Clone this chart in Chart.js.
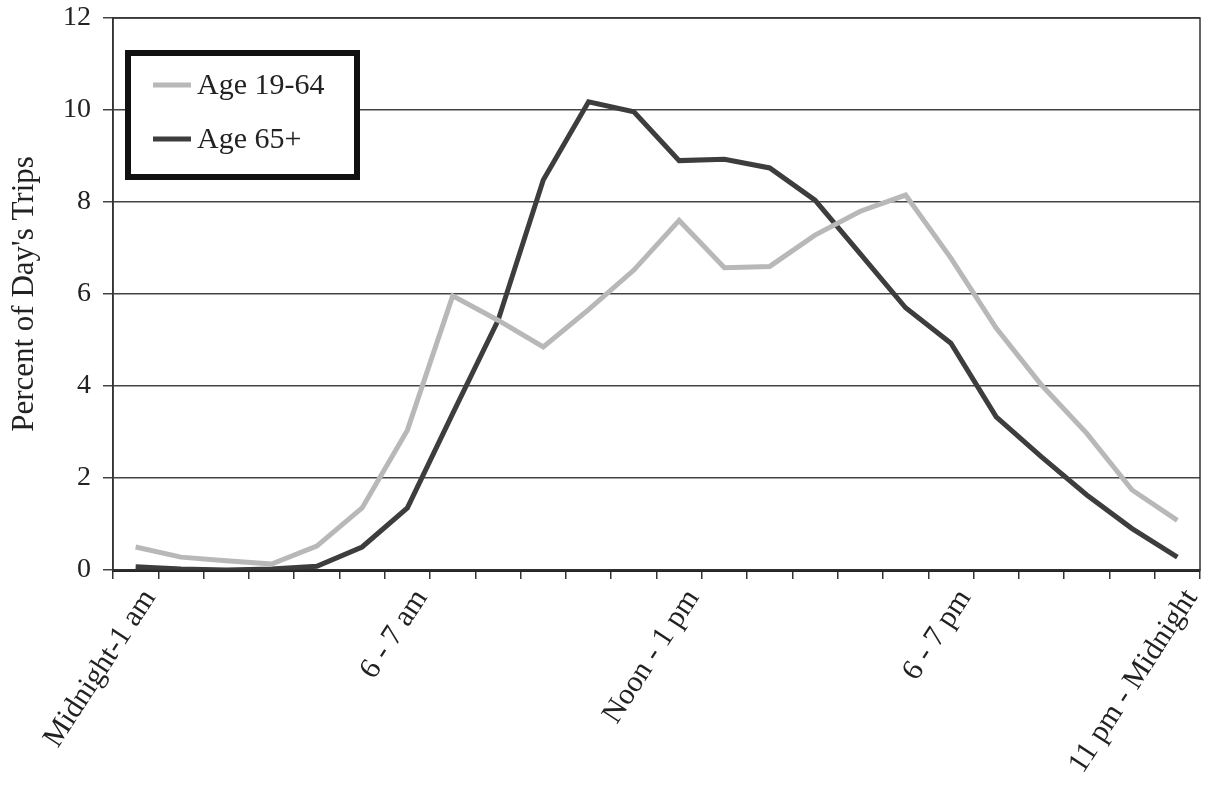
<!DOCTYPE html>
<html>
<head>
<meta charset="utf-8">
<script src="https://cdn.jsdelivr.net/npm/chart.js@4.4.1/dist/chart.umd.min.js"></script>
<style>
    body { margin: 0; background: #fff; }
    #wrap { width: 1208px; height: 785px; }
</style>
</head>
<body>
<div id="wrap"><canvas id="tripsChart"></canvas></div>
<script>
// Horas do dia (categorias)
const hours = [
    'Midnight-1 am', '1 - 2 am', '2 - 3 am', '3 - 4 am', '4 - 5 am', '5 - 6 am',
    '6 - 7 am', '7 - 8 am', '8 - 9 am', '9 - 10 am', '10 - 11 am', '11 am - Noon',
    'Noon - 1 pm', '1 - 2 pm', '2 - 3 pm', '3 - 4 pm', '4 - 5 pm', '5 - 6 pm',
    '6 - 7 pm', '7 - 8 pm', '8 - 9 pm', '9 - 10 pm', '10 - 11 pm', '11 pm - Midnight'
];
const shownLabels = ['Midnight-1 am', '6 - 7 am', 'Noon - 1 pm', '6 - 7 pm', '11 pm - Midnight'];

const age19to64 = [0.5, 0.28, 0.2, 0.13, 0.52, 1.35, 3.04, 5.96, 5.43, 4.85, 5.66, 6.52,
                   7.6, 6.57, 6.6, 7.28, 7.8, 8.15, 6.78, 5.26, 4.02, 2.97, 1.74, 1.08];
const age65plus = [0.07, 0.02, 0.0, 0.02, 0.08, 0.5, 1.35, 3.4, 5.42, 8.48, 10.18, 9.96,
                   8.9, 8.93, 8.74, 8.04, 6.87, 5.7, 4.93, 3.33, 2.46, 1.63, 0.9, 0.28];

const yTicks = [0, 2, 4, 6, 8, 10, 12];

const serif = "'Liberation Serif', 'Times New Roman', serif";

// Moldura da área do gráfico
const plotBox = {
    id: 'plotBox',
    afterDraw(chart) {
        const { ctx, chartArea: a } = chart;
        ctx.save();
        ctx.strokeStyle = '#333';
        ctx.lineWidth = 1.5;
        ctx.strokeRect(a.left, a.top, a.right - a.left, a.bottom - a.top);
        ctx.restore();
    }
};

// Legenda dentro do gráfico, com borda grossa
const boxLegend = {
    id: 'boxLegend',
    afterDraw(chart) {
        const { ctx, chartArea: a } = chart;
        const x = a.left + 15, y = 53, w = 229, h = 124;
        ctx.save();
        ctx.fillStyle = '#fff';
        ctx.fillRect(x, y, w, h);
        ctx.strokeStyle = '#111';
        ctx.lineWidth = 6;
        ctx.strokeRect(x, y, w, h);
        ctx.font = '30px ' + serif;
        ctx.textBaseline = 'middle';
        chart.data.datasets.forEach((ds, i) => {
            const ly = y + 32 + i * 54;
            ctx.strokeStyle = ds.borderColor;
            ctx.lineWidth = 5;
            ctx.beginPath();
            ctx.moveTo(x + 25, ly);
            ctx.lineTo(x + 63, ly);
            ctx.stroke();
            ctx.fillStyle = '#222';
            ctx.fillText(ds.label, x + 69, ly + 1);
        });
        ctx.restore();
    }
};

document.addEventListener('DOMContentLoaded', () => {
    const ctx = document.getElementById('tripsChart').getContext('2d');
    new Chart(ctx, {
        type: 'line',
        data: {
            labels: hours,
            datasets: [
                {
                    label: 'Age 19-64',
                    data: age19to64,
                    borderColor: '#b8b8b8',
                    borderWidth: 5,
                    pointRadius: 0,
                    tension: 0
                },
                {
                    label: 'Age 65+',
                    data: age65plus,
                    borderColor: '#3d3d3d',
                    borderWidth: 5,
                    pointRadius: 0,
                    tension: 0
                }
            ]
        },
        options: {
            responsive: true,
            maintainAspectRatio: false,
            animation: false,
            layout: { padding: { top: 18, right: 8, bottom: 0, left: 0 } },
            plugins: {
                legend: { display: false },
                tooltip: { enabled: false }
            },
            scales: {
                x: {
                    offset: true,
                    afterFit: (scale) => {
                        scale.height = 215;
                        scale.paddingRight = 0;
                        scale.paddingLeft = 0;
                    },
                    grid: {
                        offset: true,
                        drawOnChartArea: false,
                        tickLength: 9,
                        color: '#333',
                        lineWidth: 1.5
                    },
                    border: { color: '#222', width: 3 },
                    ticks: {
                        autoSkip: false,
                        maxRotation: 57,
                        minRotation: 57,
                        padding: 4,
                        labelOffset: 14,
                        color: '#222',
                        font: { family: serif, size: 30 },
                        callback: (v, i) => shownLabels.includes(hours[i]) ? hours[i] : ''
                    }
                },
                y: {
                    min: 0,
                    max: 12,
                    afterFit: (scale) => {
                        scale.width = 113;
                        scale.paddingTop = 0;
                        scale.paddingBottom = 0;
                    },
                    afterBuildTicks: (scale) => {
                        scale.ticks = yTicks.map(v => ({ value: v }));
                    },
                    grid: {
                        color: '#444',
                        lineWidth: 1.5,
                        tickLength: 10
                    },
                    border: { color: '#333', width: 1.5 },
                    ticks: {
                        color: '#222',
                        padding: 12,
                        font: { family: serif, size: 28 }
                    },
                    title: {
                        display: true,
                        text: "Percent of Day's Trips",
                        color: '#222',
                        padding: { top: 6, bottom: 0 },
                        font: { family: serif, size: 31 }
                    }
                }
            }
        },
        plugins: [plotBox, boxLegend]
    });
});
</script>
</body>
</html>
